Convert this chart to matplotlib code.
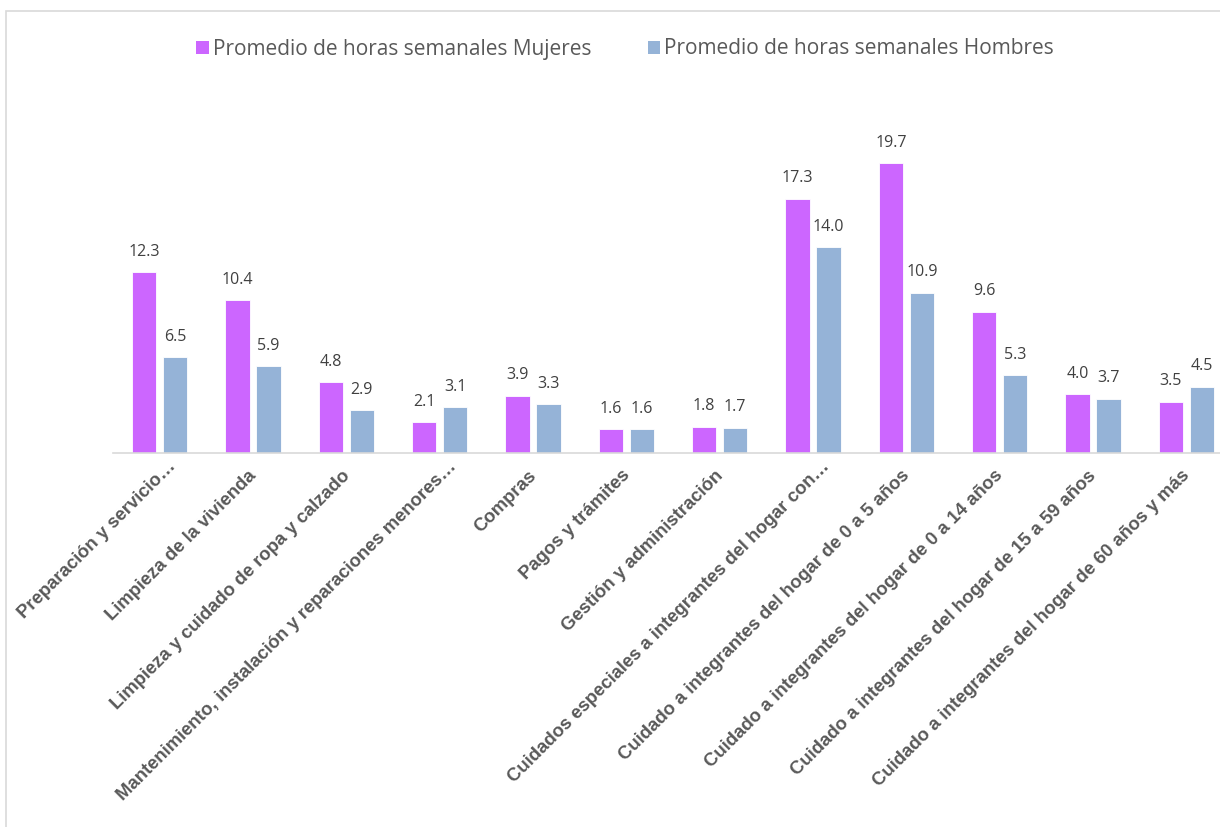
import numpy as np
import matplotlib
matplotlib.use("Agg")
import matplotlib.pyplot as plt
from matplotlib.patches import Patch, Rectangle
from matplotlib.transforms import ScaledTranslation

# horas semanales promedio de trabajo no remunerado, por actividad

categorias = [
    "Preparación y servicio…",
    "Limpieza de la vivienda",
    "Limpieza y cuidado de ropa y calzado",
    "Mantenimiento, instalación y reparaciones menores…",
    "Compras",
    "Pagos y trámites",
    "Gestión y administración",
    "Cuidados especiales a integrantes del hogar con…",
    "Cuidado a integrantes del hogar de 0 a 5 años",
    "Cuidado a integrantes del hogar de 0 a 14 años",
    "Cuidado a integrantes del hogar de 15 a 59 años",
    "Cuidado a integrantes del hogar de 60 años y más",
]
mujeres = [12.3, 10.4, 4.8, 2.1, 3.9, 1.6, 1.8, 17.3, 19.7, 9.6, 4.0, 3.5]
hombres = [6.5, 5.9, 2.9, 3.1, 3.3, 1.6, 1.7, 14.0, 10.9, 5.3, 3.7, 4.5]
serie_labels = ["Promedio de horas semanales Mujeres", "Promedio de horas semanales Hombres"]

COL_M = "#CC66FF"
COL_H = "#95B3D7"
GRIS_TXT = "#595959"
GRIS_VAL = "#404040"
GRIS_LINEA = "#D9D9D9"

W, H = 1220, 827
fig = plt.figure(figsize=(W / 100, H / 100), dpi=100)

# plot area in pixels: left 113, baseline 453, 0..24 -> 353 px
ax = fig.add_axes([113 / W, (H - 453) / H, 1120 / W, 353 / H])
x = np.arange(len(categorias))
bw = 0.262
off = 0.166
b1 = ax.bar(x - off, mujeres, bw, color=COL_M, edgecolor="white", linewidth=0.6)
b2 = ax.bar(x + off, hombres, bw, color=COL_H, edgecolor="white", linewidth=0.6)

for bars in (b1, b2):
    ax.bar_label(bars, fmt="%.1f", padding=9, fontsize=11.5, color=GRIS_VAL,
                 family="Open Sans")

ax.set_xlim(-0.5, len(categorias) - 0.5)
ax.set_ylim(0, 24)
ax.set_yticks([])
for s in ("top", "right", "left"):
    ax.spines[s].set_visible(False)
ax.spines["bottom"].set_color(GRIS_LINEA)
ax.spines["bottom"].set_linewidth(1.2)

ax.set_xticks(x)
ax.set_xticklabels(categorias, rotation=45, ha="right", va="center",
                   rotation_mode="anchor", fontsize=13.3, fontweight="bold",
                   color=GRIS_TXT, family="Liberation Sans")
ax.tick_params(axis="x", length=0, pad=0)
for lab in ax.get_xticklabels():
    # Excel corre un poco las etiquetas recortadas
    if lab.get_text().endswith("…"):
        dx, dy = 14, -11
    else:
        dx, dy = 1, -20
    lab.set_transform(lab.get_transform() + ScaledTranslation(dx / 100, dy / 100, fig.dpi_scale_trans))

handles = [Patch(facecolor=COL_M), Patch(facecolor=COL_H)]
fig.legend(handles, serie_labels, loc="center", bbox_to_anchor=(625 / W, 1 - 49 / H),
           ncol=2, frameon=False, handlelength=0.58, handleheight=0.58,
           handletextpad=0.2, columnspacing=2.7,
           prop={"family": "Open Sans", "size": 15}, labelcolor=GRIS_TXT)

# borde del grafico
fig.patches.append(Rectangle((6 / W, -0.05), 1.2, 1.05 - 11 / H, transform=fig.transFigure,
                             fill=False, edgecolor=GRIS_LINEA, linewidth=1.2))

fig.savefig("out.png", dpi=100)
